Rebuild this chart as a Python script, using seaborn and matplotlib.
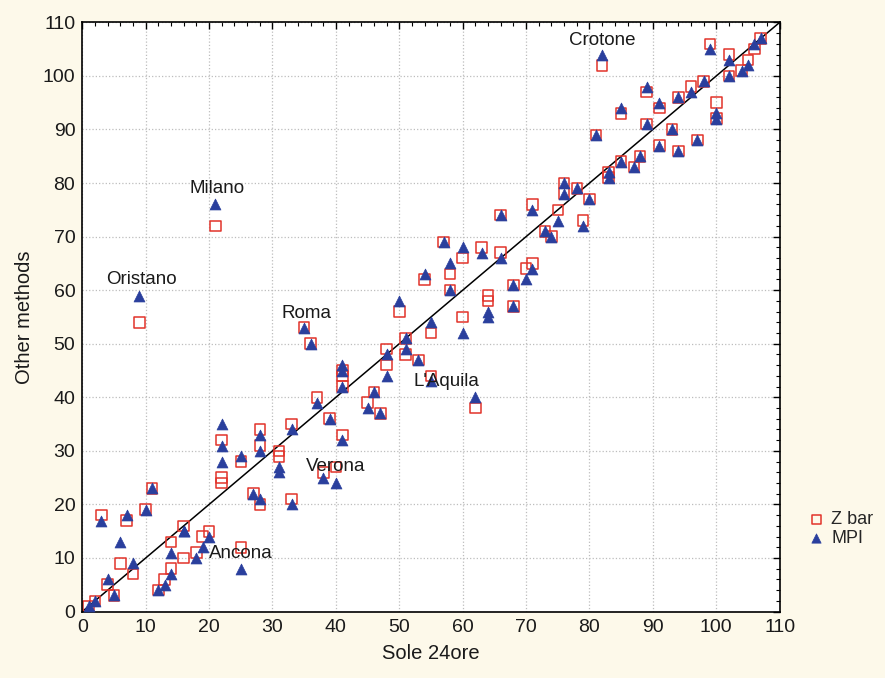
import pandas as pd
import matplotlib
matplotlib.use('Agg')
import matplotlib.pyplot as plt
from matplotlib.ticker import MultipleLocator
import seaborn as sns

# rank in Sole 24ore vs rank from the two other methods
sole = [1, 2, 3, 4, 5, 6, 7, 8, 9, 10, 11, 12, 13, 14, 14, 16, 16, 18, 19, 20,
        21, 22, 22, 22, 25, 25, 27, 28, 28, 28, 31, 31, 33, 33, 35, 36, 37, 38, 39, 40,
        41, 41, 41, 41, 45, 46, 47, 48, 48, 50, 51, 51, 53, 54, 55, 55, 57, 58, 58, 60,
        60, 62, 63, 64, 64, 66, 66, 68, 68, 70, 71, 71, 73, 74, 75, 76, 76, 78, 79, 80,
        81, 82, 83, 83, 85, 85, 87, 88, 89, 89, 91, 91, 93, 94, 94, 96, 97, 98, 99, 100,
        100, 102, 102, 104, 105, 106, 107]
zbar = [1, 2, 18, 5, 3, 9, 17, 7, 54, 19, 23, 4, 6, 8, 13, 16, 10, 11, 14, 15,
        72, 32, 25, 24, 28, 12, 22, 20, 34, 31, 30, 29, 35, 21, 53, 50, 40, 26, 36, 27,
        33, 45, 44, 42, 39, 41, 37, 49, 46, 56, 51, 48, 47, 62, 52, 44, 69, 63, 60, 66,
        55, 38, 68, 59, 58, 67, 74, 61, 57, 64, 65, 76, 71, 70, 75, 80, 78, 79, 73, 77,
        89, 102, 82, 81, 93, 84, 83, 85, 97, 91, 94, 87, 90, 96, 86, 98, 88, 99, 106, 95,
        92, 104, 100, 101, 103, 105, 107]
mpi = [1, 2, 17, 6, 3, 13, 18, 9, 59, 19, 23, 4, 5, 7, 11, 15, 15, 10, 12, 14,
       76, 35, 31, 28, 29, 8, 22, 21, 33, 30, 27, 26, 34, 20, 53, 50, 39, 25, 36, 24,
       32, 46, 45, 42, 38, 41, 37, 48, 44, 58, 51, 49, 47, 63, 54, 43, 69, 65, 60, 68,
       52, 40, 67, 56, 55, 66, 74, 61, 57, 62, 64, 75, 71, 70, 73, 80, 78, 79, 72, 77,
       89, 104, 82, 81, 94, 84, 83, 85, 98, 91, 95, 87, 90, 96, 86, 97, 88, 99, 105, 93,
       92, 103, 100, 101, 102, 106, 107]

cities = ['Crotone', 'Milano', 'Oristano', 'Roma', 'Verona', 'Ancona', "L'Aquila"]
city_x = [82, 21.3, 9.4, 35.4, 39.9, 25, 52.2]
city_y = [106.7, 79, 62, 55.7, 27, 10.9, 43]

df = pd.DataFrame({'sole': sole, 'zbar': zbar, 'mpi': mpi})

sns.set_style('white')
plt.rcParams['font.family'] = ['Liberation Sans', 'DejaVu Sans']

fig = plt.figure(figsize=(8.85, 6.78), dpi=100, facecolor='#fdf9ea')
ax = fig.add_axes([0.093, 0.098, 0.788, 0.869])
ax.set_facecolor('white')

ax.plot([0, 110], [0, 110], color='black', lw=1.1, zorder=1)

sns.scatterplot(data=df, x='sole', y='zbar', marker='s', s=58,
                facecolor='none', edgecolor='#e2332a', linewidth=1.1,
                label='Z bar', ax=ax, zorder=2)
sns.scatterplot(data=df, x='sole', y='mpi', marker='^', s=62,
                color='#2a3f9d', edgecolor='#2a3f9d', linewidth=0.5,
                label='MPI', ax=ax, zorder=3)

for name, cx, cy in zip(cities, city_x, city_y):
    ha = 'left' if name == "L'Aquila" else 'center'
    ax.text(cx, cy, name, ha=ha, va='center', fontsize=13.5, color='#1a1a1a')

ax.set_xlim(0, 110)
ax.set_ylim(0, 110)
ax.xaxis.set_major_locator(MultipleLocator(10))
ax.yaxis.set_major_locator(MultipleLocator(10))
ax.xaxis.set_minor_locator(MultipleLocator(2))
ax.yaxis.set_minor_locator(MultipleLocator(2))
ax.tick_params(which='both', direction='in', top=True, right=True,
               color='black', labelsize=14, labelcolor='#1a1a1a')
ax.tick_params(which='major', length=5, width=1, pad=5)
ax.tick_params(which='minor', length=3, width=0.8)
ax.grid(True, which='major', linestyle=':', color='#bdbdbd', lw=0.9)
for sp in ax.spines.values():
    sp.set_color('black')
    sp.set_linewidth(1.2)

ax.set_xlabel('Sole 24ore', fontsize=14.5, labelpad=6, color='#1a1a1a')
ax.set_ylabel('Other methods', fontsize=14.5, labelpad=6, color='#1a1a1a')

ax.get_legend().remove()
handles, labels = ax.get_legend_handles_labels()
fig.legend(handles, labels, loc='center left', bbox_to_anchor=(0.912, 0.22),
           frameon=False, fontsize=13, handlelength=1.0, handletextpad=0.35,
           labelspacing=0.1, borderaxespad=0, borderpad=0, markerscale=0.85)

fig.savefig('out.png', dpi=100, facecolor=fig.get_facecolor())
